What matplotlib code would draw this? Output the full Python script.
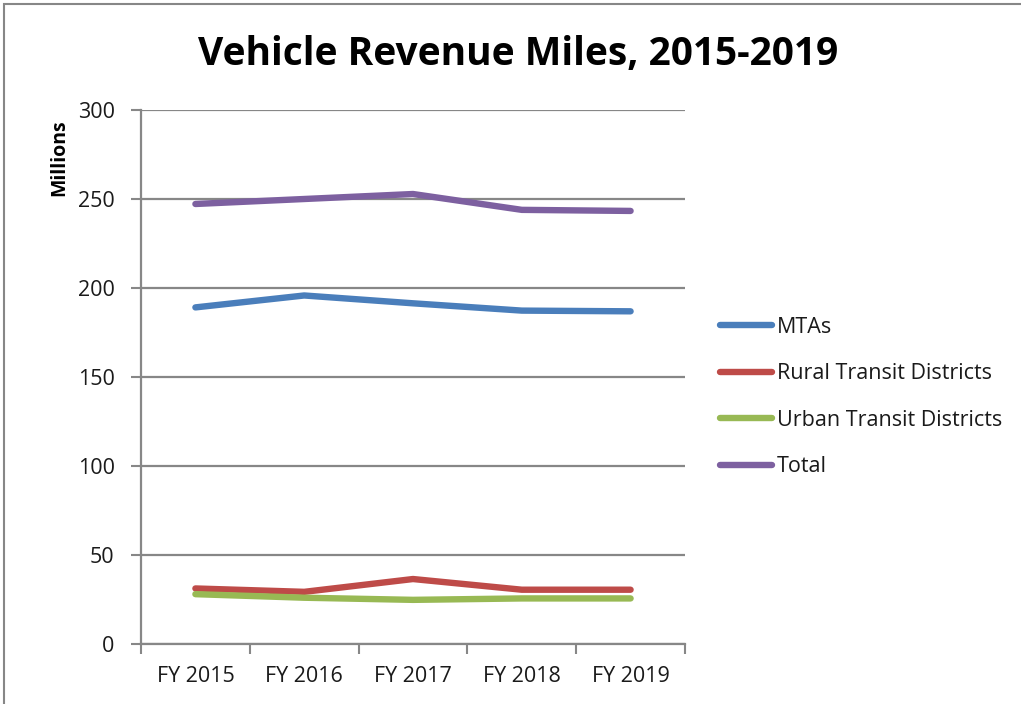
import matplotlib.pyplot as plt
from matplotlib.patches import Rectangle

# Chart data (millions of vehicle revenue miles)
years = ["FY 2015", "FY 2016", "FY 2017", "FY 2018", "FY 2019"]
mtas = [189.1, 195.8, 191.4, 187.3, 186.9]
rural = [31.2, 29.3, 36.5, 30.5, 30.5]
urban = [28.0, 26.0, 24.8, 25.6, 25.6]
total = [247.2, 250.0, 252.8, 243.9, 243.3]

series = [
    ("MTAs", mtas, "#4a7ebb"),
    ("Rural Transit Districts", rural, "#be4b48"),
    ("Urban Transit Districts", urban, "#98b954"),
    ("Total", total, "#7d60a0"),
]

plt.rcParams['font.family'] = ['Open Sans', 'DejaVu Sans']
grid_col = "#878787"
txt_col = "#1a1a1a"

fig = plt.figure(figsize=(10.21, 7.04), dpi=100)
ax = fig.add_axes([141/1021, 60/704, 544/1021, 534/704])

x = range(len(years))
for name, vals, col in series:
    ax.plot(x, vals, color=col, lw=4.6, solid_capstyle='round',
            solid_joinstyle='round', label=name)

ax.set_xlim(-0.5, 4.5)
ax.set_ylim(0, 300)
ax.set_yticks(range(0, 301, 50))
ax.set_xticks(list(x))
ax.set_xticklabels(years)
ax.set_xticks([i - 0.5 for i in range(6)], minor=True)
ax.tick_params(axis='x', which='major', length=0, pad=16, labelsize=15.5,
               labelcolor=txt_col)
ax.tick_params(axis='x', which='minor', length=7, width=1.5, color=grid_col)
ax.tick_params(axis='y', length=7, width=1.5, color=grid_col, labelsize=15.5,
               pad=12, labelcolor=txt_col)
ax.yaxis.grid(True, color=grid_col, lw=1.6)
ax.set_axisbelow(True)
for s in ['top', 'right']:
    ax.spines[s].set_visible(False)
for s in ['left', 'bottom']:
    ax.spines[s].set_color(grid_col)
    ax.spines[s].set_linewidth(1.6)

fig.text(59/1021, 1 - 158/704, "Millions", rotation=90, ha='center', va='center',
         fontsize=14, fontweight='bold')
fig.text(518/1021, 1 - 55/704, "Vehicle Revenue Miles, 2015-2019", ha='center',
         va='center', fontsize=28, fontweight='bold')

ax.legend(loc='center left', bbox_to_anchor=(720/1021, 1 - 397/704),
          bbox_transform=fig.transFigure, frameon=False, fontsize=15.5,
          handlelength=2.4, handletextpad=0.25, labelspacing=1.18,
          borderaxespad=0, borderpad=0, labelcolor=txt_col)

fig.patches.append(Rectangle((4/1021, -0.05), 1.1, 1 - 4/704 + 0.05,
                             transform=fig.transFigure, fill=False,
                             edgecolor=grid_col, lw=1.5))

plt.savefig('out.png', dpi=100)
